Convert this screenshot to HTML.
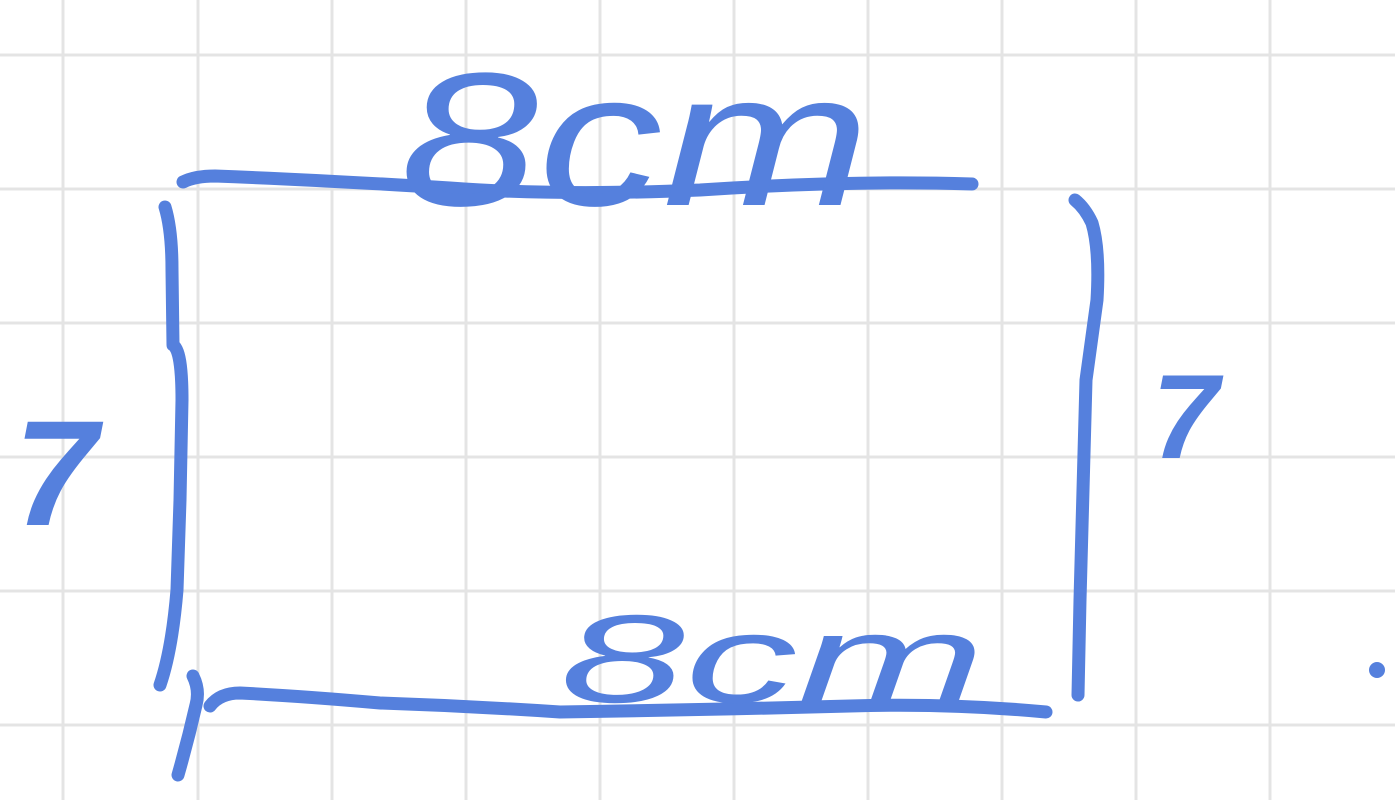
<!DOCTYPE html>
<html><head><meta charset="utf-8"><style>
html,body{margin:0;padding:0;background:#fff;}
svg{display:block;}
text{font-family:"Liberation Sans",sans-serif;font-style:italic;fill:#5580dd;}
</style></head><body>
<svg width="1395" height="800" viewBox="0 0 1395 800">
<g stroke="#e4e4e4" stroke-width="3">
<line x1="63" y1="0" x2="63" y2="800"/><line x1="198" y1="0" x2="198" y2="800"/>
<line x1="332" y1="0" x2="332" y2="800"/><line x1="466" y1="0" x2="466" y2="800"/>
<line x1="600" y1="0" x2="600" y2="800"/><line x1="734" y1="0" x2="734" y2="800"/>
<line x1="868" y1="0" x2="868" y2="800"/><line x1="1002" y1="0" x2="1002" y2="800"/>
<line x1="1136" y1="0" x2="1136" y2="800"/><line x1="1270" y1="0" x2="1270" y2="800"/>
<line x1="0" y1="55" x2="1395" y2="55"/><line x1="0" y1="189" x2="1395" y2="189"/>
<line x1="0" y1="323" x2="1395" y2="323"/><line x1="0" y1="457" x2="1395" y2="457"/>
<line x1="0" y1="591" x2="1395" y2="591"/><line x1="0" y1="725" x2="1395" y2="725"/>
</g>
<g fill="none" stroke="#5580dd" stroke-width="13" stroke-linecap="round" stroke-linejoin="round">
<path d="M183 182 Q195 176 215 176 Q320 180 450 188 Q560 196 700 190 Q850 180 972 184"/>
<path d="M165 207 Q172 230 172 270 L173 345 Q182 350 182 400 L180 500 L177 590 Q172 650 160 685"/>
<path d="M193 676 Q200 690 196 705 Q188 740 178 775"/>
<path d="M210 706 Q220 693 240 693 Q300 696 380 703 Q470 706 560 712 Q700 710 850 706 Q950 703 1046 712"/>
<path d="M1075 200 Q1085 208 1092 223 Q1100 250 1097 300 L1086 380 L1080 600 L1078 695"/>
<circle cx="1377" cy="670" r="8" fill="#5580dd" stroke="none"/>
</g>
<text x="400" y="205" font-size="190" textLength="470" lengthAdjust="spacingAndGlyphs">8cm</text>
<text x="560" y="702" font-size="125" textLength="425" lengthAdjust="spacingAndGlyphs">8cm</text>
<text x="14" y="525" font-size="150" font-weight="bold">7</text>
<text x="1152" y="458" font-size="120" font-weight="bold">7</text>
</svg>
</body></html>
